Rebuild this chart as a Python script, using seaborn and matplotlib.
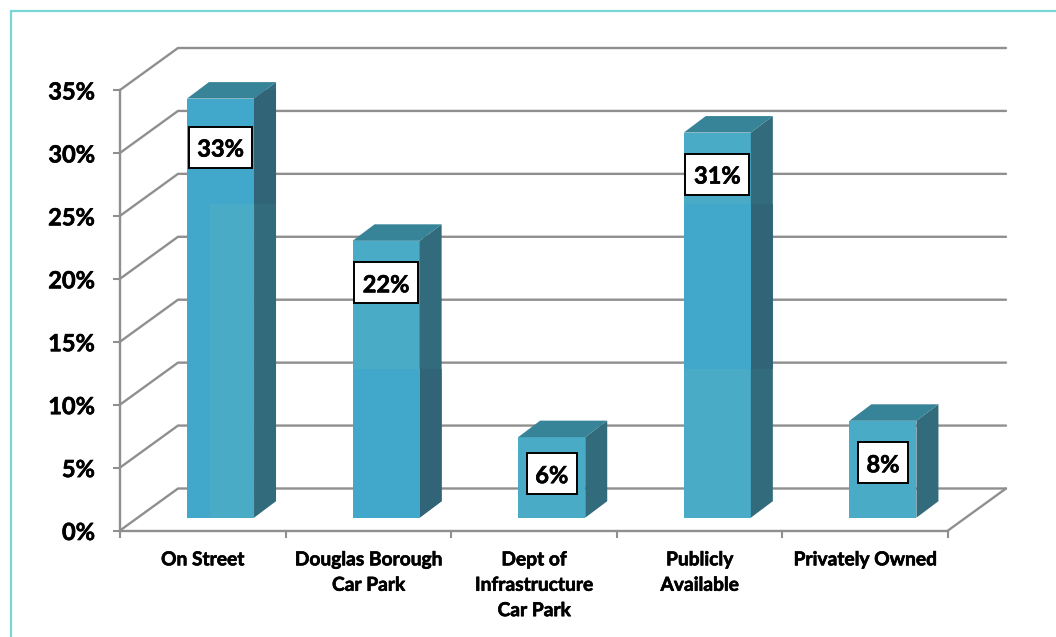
import matplotlib
matplotlib.use("Agg")
import matplotlib.pyplot as plt
import matplotlib.patheffects as pe
import pandas as pd
import seaborn as sns
from matplotlib.lines import Line2D
from matplotlib.patches import Polygon, Rectangle
from matplotlib.transforms import IdentityTransform

# Parking supply by provider, percent of all spaces
categories = ["On Street", "Douglas Borough\nCar Park", "Dept of\nInfrastructure\nCar Park",
              "Publicly\nAvailable", "Privately Owned"]
shares = [33.3, 22.0, 6.4, 30.6, 7.7]
y_ticks = [0, 5, 10, 15, 20, 25, 30, 35]

W, H = 1056, 637
LEFT, RIGHT, BASE, TOP = 120, 948, 530.5, 90
GRID = "#8f8f8f"
FACE_LIGHT, FACE_DEEP = "#4aabc6", "#42a8cb"
SIDE_LIGHT, SIDE_DEEP = "#316b7c", "#326478"
ROOF = "#378398"
BORDER = "#77d6d8"
FONT = "Lato"
EMBOLDEN = [pe.withStroke(linewidth=0.45, foreground="black")]

sns.set_theme(style="white")
plt.rcParams["font.family"] = [FONT, "DejaVu Sans"]

fig = plt.figure(figsize=(W / 100, H / 100), dpi=100)
ax = fig.add_axes([LEFT / W, 1 - BASE / H, (RIGHT - LEFT) / W, (BASE - TOP) / H])

df = pd.DataFrame({"source": categories, "share": shares})
sns.barplot(data=df, x="source", y="share", color=FACE_LIGHT, saturation=1,
            width=0.405, ax=ax, zorder=3)
ax.set_xlim(-0.5, 4.5)
ax.set_ylim(0, 35)
ax.set_xlabel("")
ax.set_ylabel("")

px_x = 5 / (RIGHT - LEFT)          # data units per pixel, horizontally
px_y = 35 / (BASE - TOP)           # data units per pixel, vertically
wall_dx, wall_dy = 58 * px_x, 42 * px_y
bar_dx, bar_dy = 17.7 * px_x, 12.8 * px_y
side_dx, side_dy = 22 * px_x, 16.5 * px_y

# Side walls and floor of the box behind the bars
for tick in y_ticks:
    ax.plot([-0.5, -0.5 + wall_dx, 4.5 + wall_dx],
            [tick, tick + wall_dy, tick + wall_dy],
            color=GRID, lw=1.7, clip_on=False, zorder=1, solid_joinstyle="miter")
ax.plot([4.5, 4.5 + wall_dx], [0, wall_dy], color=GRID, lw=1.7, clip_on=False, zorder=1)

# Darker tone patches per bar: (start of width, end of width, low, high)
tone_bands = [
    [(0, 0.34, 0, 33.3), (0.34, 1, 24.9, 33.3)],
    [(0, 1, 0, 11.8)],
    [],
    [(0, 1, 11.8, 24.9)],
    [],
]

bars = list(ax.patches)
for bar, value, bands in zip(bars, shares, tone_bands):
    bar.set_x(bar.get_x() + bar_dx)
    bar.set_y(bar_dy)
    bar.set_linewidth(0)
    x0 = bar.get_x()
    width = bar.get_width()
    x1 = x0 + width
    y0 = bar_dy
    y1 = bar_dy + value
    side = Polygon([(x1, y0), (x1 + side_dx, y0 + side_dy), (x1 + side_dx, y1 + side_dy), (x1, y1)],
                   closed=True, fc=SIDE_LIGHT, lw=0, zorder=3, clip_on=False)
    roof = Polygon([(x0, y1), (x0 + side_dx, y1 + side_dy), (x1 + side_dx, y1 + side_dy), (x1, y1)],
                   closed=True, fc=ROOF, lw=0, zorder=3, clip_on=False)
    ax.add_patch(side)
    ax.add_patch(roof)
    for start, end, low, high in bands:
        ax.add_patch(Rectangle((x0 + start * width, y0 + low), (end - start) * width, high - low,
                               fc=FACE_DEEP, lw=0, zorder=3.2, clip_on=False))
        if end == 1:
            # the tone change runs level across the side face
            top_edge = y0 + high + (side_dy if high == value else 0)
            shade = Rectangle((x1, y0 + low), side_dx, top_edge - (y0 + low),
                              fc=SIDE_DEEP, lw=0, zorder=3.2)
            ax.add_patch(shade)
            shade.set_clip_path(side)

# Axes
for name in ("top", "right"):
    ax.spines[name].set_visible(False)
for name in ("left", "bottom"):
    ax.spines[name].set_color(GRID)
    ax.spines[name].set_linewidth(1.7)
    ax.spines[name].set_zorder(2)

ax.set_yticks(y_ticks, labels=[f"{t}%" for t in y_ticks])
ax.set_xticks([i - 0.5 for i in range(6)], labels=[""] * 6)
ax.set_xticks(range(5), labels=categories, minor=True)
ax.tick_params(axis="y", length=5, width=1.5, color=GRID, left=True, pad=13,
               labelsize=17, labelcolor="black")
ax.tick_params(axis="x", which="major", length=5, width=1.5, color=GRID, bottom=True)
ax.tick_params(axis="x", which="minor", length=0, pad=15, labelsize=13.8, labelcolor="black")
for label in ax.get_yticklabels() + ax.get_xticklabels(minor=True):
    label.set_fontweight("bold")
    label.set_path_effects(EMBOLDEN)
for label in ax.get_xticklabels(minor=True):
    label.set_linespacing(1.6)
    label.set_verticalalignment("top")

# Boxed value labels, hung a fixed distance below each bar top (pixels)
label_drop = [48.5, 42, 36.5, 41.5, 42]
renderer = fig.canvas.get_renderer()
for bar, value, drop in zip(bars, shares, label_drop):
    cx = bar.get_x() + bar.get_width() / 2
    cy = bar_dy + value - drop * px_y
    text = ax.text(cx, cy, f"{value:.0f}%", ha="center", va="center_baseline", fontsize=17,
                   fontweight="bold", color="black", zorder=6, path_effects=EMBOLDEN)
    extent = text.get_window_extent(renderer)
    px, py = ax.transData.transform((cx, cy))
    box_w = extent.width + 17
    box_h = 41
    ax.add_patch(Rectangle((px - box_w / 2, py - box_h / 2), box_w, box_h, transform=IdentityTransform(),
                           fc="white", ec="black", lw=1.4, zorder=5, clip_on=False))

# Teal frame along the top and left edges
fig.add_artist(Line2D([10.5 / W, 10.5 / W, 1], [0, 1 - 10.5 / H, 1 - 10.5 / H],
                      color=BORDER, lw=1.6, transform=fig.transFigure, solid_joinstyle="miter"))

fig.savefig("out.png", dpi=100, facecolor="white")
